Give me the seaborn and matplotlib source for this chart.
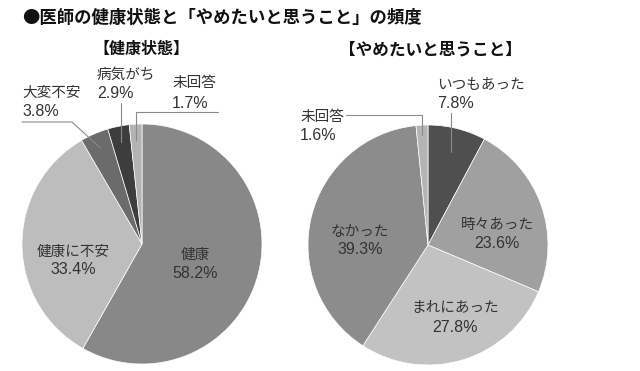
import matplotlib
matplotlib.use("Agg")
import matplotlib.pyplot as plt
import seaborn as sns
import numpy as np

sns.set_theme(style="white")
plt.rcParams['font.family'] = ['Noto Sans CJK JP', 'DejaVu Sans']

# データ
health_labels = ["健康", "健康に不安", "大変不安", "病気がち", "未回答"]
health_values = [58.2, 33.4, 3.8, 2.9, 1.7]
health_colors = ["#888888", "#bdbdbd", "#6b6b6b", "#3d3d3d", "#b3b3b3"]

quit_labels = ["いつもあった", "時々あった", "まれにあった", "なかった", "未回答"]
quit_values = [7.8, 23.6, 27.8, 39.3, 1.6]
quit_colors = ["#4f4f4f", "#a0a0a0", "#c2c2c2", "#8c8c8c", "#b4b4b4"]

H = 371  # 画像の高さ (px)


def Y(y):
    return H - y


fig = plt.figure(figsize=(6.4, 3.71), dpi=100)
ax = fig.add_axes([0, 0, 1, 1])

centers = [(142, Y(244)), (428, Y(245))]
R = 120

wedges_all = []
for vals, cols, c in [(health_values, health_colors, centers[0]),
                      (quit_values, quit_colors, centers[1])]:
    w, _ = ax.pie(vals, colors=cols, startangle=90, counterclock=False,
                  center=c, radius=R, frame=True,
                  wedgeprops=dict(edgecolor="white", linewidth=0.5))
    wedges_all.append(w)

ax.set_xlim(0, 640)
ax.set_ylim(0, H)
ax.set_aspect("equal")
ax.axis("off")


def inner_point(wedge, center, frac):
    ang = np.deg2rad((wedge.theta1 + wedge.theta2) / 2)
    return center[0] + frac * R * np.cos(ang), center[1] + frac * R * np.sin(ang)


fs = 10.5
fs_num = 11.5
txt_col = "#333333"
line_col = "#8a8a8a"


def label(x, y_name, y_val, name, val, ha="center"):
    ax.text(x, Y(y_name), name, fontsize=fs, ha=ha, va="center", color=txt_col)
    ax.text(x, Y(y_val), f"{val}%", fontsize=fs_num, ha=ha, va="center",
            color=txt_col, family=["Liberation Sans", "DejaVu Sans"])


# タイトル
fig.text(22 / 640, 1 - 18 / H, "●医師の健康状態と「やめたいと思うこと」の頻度",
         fontsize=12.5, fontweight="bold", va="center", ha="left", color="#111111")
ax.text(141, Y(49), "【健康状態】", fontsize=11.5, fontweight="bold",
        ha="center", va="center", color="#111111")
ax.text(430, Y(49), "【やめたいと思うこと】", fontsize=12, fontweight="bold",
        ha="center", va="center", color="#111111")

# 左の円グラフ: 内側ラベル
label(195, 255, 274, health_labels[0], health_values[0])
label(73, 252, 269, health_labels[1], health_values[1])

# 左の円グラフ: 外側ラベル
hw = wedges_all[0]
label(22, 93, 112, health_labels[2], health_values[2], ha="left")
px, py = inner_point(hw[2], centers[0], 0.87)
ax.plot([22, 72, px], [Y(122), Y(122), py], color=line_col, lw=0.8)

label(97, 75, 93, health_labels[3], health_values[3], ha="left")
px, py = inner_point(hw[3], centers[0], 0.87)
ax.plot([px, px], [Y(103), py], color=line_col, lw=0.8)

label(172, 83, 103, health_labels[4], health_values[4], ha="left")
px, py = inner_point(hw[4], centers[0], 0.87)
ax.plot([218, px, px], [Y(112), Y(112), py], color=line_col, lw=0.8)

# 右の円グラフ: 内側ラベル
label(497, 225, 243, quit_labels[1], quit_values[1])
label(455, 308, 327, quit_labels[2], quit_values[2])
label(360, 232, 250, quit_labels[3], quit_values[3])

# 右の円グラフ: 外側ラベル
qw = wedges_all[1]
label(437, 85, 103, quit_labels[0], quit_values[0], ha="left")
px, py = inner_point(qw[0], centers[1], 0.8)
ax.plot([px, px], [Y(113), py], color=line_col, lw=0.8)

label(300, 117, 135, quit_labels[4], quit_values[4], ha="left")
px, py = inner_point(qw[4], centers[1], 0.92)
ax.plot([346, px, px], [Y(115), Y(115), py], color=line_col, lw=0.8)

fig.savefig("out.png", dpi=100, facecolor="white")
